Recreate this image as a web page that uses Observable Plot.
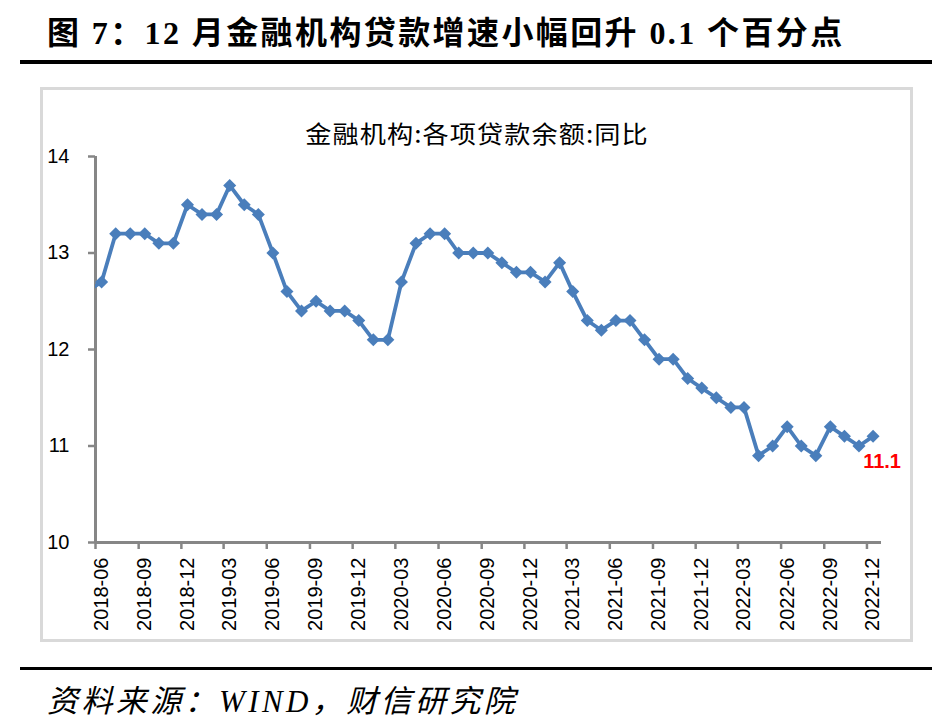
<!DOCTYPE html>
<html><head><meta charset="utf-8">
<script src="https://cdn.jsdelivr.net/npm/d3@7"></script>
<script src="https://cdn.jsdelivr.net/npm/@observablehq/plot@0.6"></script>
<style>
body{margin:0;background:#fff;width:952px;height:727px;position:relative;overflow:hidden;}
#heading{position:absolute;left:47px;top:13px;font-family:"Liberation Serif","Noto Sans CJK SC";font-weight:bold;font-size:32px;letter-spacing:2.4px;white-space:nowrap;line-height:40px;color:#000;}
#rule1{position:absolute;left:20px;top:60px;width:912px;height:4px;background:#000;}
#box{position:absolute;left:40px;top:87px;width:873px;height:555px;box-sizing:border-box;border:3px solid #d9d9d9;}
#ptitle{position:absolute;left:227px;width:500px;top:116px;line-height:34px;text-align:center;font-family:"Noto Sans CJK SC";font-size:24px;letter-spacing:1px;transform:scaleX(1.09);transform-origin:center;white-space:nowrap;color:#000;}
#chart{position:absolute;left:40px;top:92px;}
#rule2{position:absolute;left:20px;top:667px;width:912px;height:3px;background:#000;}
#source{position:absolute;left:47px;top:684px;line-height:36px;font-family:"Liberation Serif","Noto Sans CJK SC";font-style:italic;font-size:31px;letter-spacing:3.4px;white-space:nowrap;color:#000;}
</style></head>
<body>
<div id="heading">图 7：12 月金融机构贷款增速小幅回升 0.1 个百分点</div>
<div id="rule1"></div>
<div id="box"></div>
<div id="ptitle">金融机构:各项贷款余额:同比</div>
<div id="chart"></div>
<div id="rule2"></div>
<div id="source">资料来源：WIND，财信研究院</div>
<script>
const months = [
  "2018-05","2018-06","2018-07","2018-08","2018-09","2018-10","2018-11","2018-12",
  "2019-01","2019-02","2019-03","2019-04","2019-05","2019-06","2019-07","2019-08","2019-09","2019-10","2019-11","2019-12",
  "2020-01","2020-02","2020-03","2020-04","2020-05","2020-06","2020-07","2020-08","2020-09","2020-10","2020-11","2020-12",
  "2021-01","2021-02","2021-03","2021-04","2021-05","2021-06","2021-07","2021-08","2021-09","2021-10","2021-11","2021-12",
  "2022-01","2022-02","2022-03","2022-04","2022-05","2022-06","2022-07","2022-08","2022-09","2022-10","2022-11","2022-12"
];
const values = [
  12.6,12.7,13.2,13.2,13.2,13.1,13.1,13.5,
  13.4,13.4,13.7,13.5,13.4,13.0,12.6,12.4,12.5,12.4,12.4,12.3,
  12.1,12.1,12.7,13.1,13.2,13.2,13.0,13.0,13.0,12.9,12.8,12.8,
  12.7,12.9,12.6,12.3,12.2,12.3,12.3,12.1,11.9,11.9,11.7,11.6,
  11.5,11.4,11.4,10.9,11.0,11.2,11.0,10.9,11.2,11.1,11.0,11.1
];
const tickLabels = ["2018-06","2018-09","2018-12","2019-03","2019-06","2019-09","2019-12","2020-03","2020-06","2020-09","2020-12","2021-03","2021-06","2021-09","2021-12","2022-03","2022-06","2022-09","2022-12"];
const yTicks = [10,11,12,13,14];

const parseMid = s => d3.utcParse("%Y-%m-%d")(s + "-14");
const parseStart = s => d3.utcParse("%Y-%m")(s);
const data = months.map((m, i) => ({date: parseMid(m), value: values[i]}));
const last = data[data.length - 1];
const xStart = parseStart(tickLabels[0]);
const xEnd = d3.utcMonth.offset(parseStart(tickLabels[tickLabels.length - 1]), 1);

const blue = "#4a7ebb";
const gray = "#868686";
const diamond = {draw(ctx, size) { const h = Math.sqrt(size / 2); ctx.moveTo(0, -h); ctx.lineTo(h, 0); ctx.lineTo(0, h); ctx.lineTo(-h, 0); ctx.closePath(); }};

const chart = Plot.plot({
  width: 870,
  height: 546,
  marginLeft: 55,
  marginRight: 29,
  marginTop: 64,
  marginBottom: 96,
  style: {fontFamily: "Liberation Sans, Arial, sans-serif", fontSize: "20px", background: "transparent", color: "#000"},
  x: {type: "utc", domain: [xStart, xEnd], label: null},
  y: {domain: [10, 14], label: null},
  marks: [
    Plot.axisY({ticks: yTicks, tickSize: 7, tickPadding: 19, stroke: gray, strokeWidth: 2.5, fill: "#000", label: null, tickFormat: d => String(d)}),
    Plot.axisX({ticks: tickLabels.map(parseStart), tickSize: 7, stroke: gray, strokeWidth: 2.5, fill: "none", label: null}),
    Plot.axisX({ticks: tickLabels.map(parseMid), tickSize: 0, tickPadding: 15, tickRotate: -90, fill: "#000", label: null, tickFormat: d3.utcFormat("%Y-%m")}),
    Plot.ruleY([10], {stroke: gray, strokeWidth: 3}),
    Plot.ruleX([xStart], {y1: 10, y2: 14, stroke: gray, strokeWidth: 3}),
    Plot.line(data, {x: "date", y: "value", stroke: blue, strokeWidth: 3.8, clip: true}),
    Plot.dot(data, {x: "date", y: "value", symbol: diamond, r: 5.2, fill: blue, stroke: "none", clip: true}),
    Plot.text([last], {x: "date", y: "value", text: d => d.value.toFixed(1), dx: 9, dy: 25, fill: "#ff0000", fontWeight: "bold", fontSize: 20})
  ]
});
document.getElementById("chart").appendChild(chart);
</script>
</body></html>
